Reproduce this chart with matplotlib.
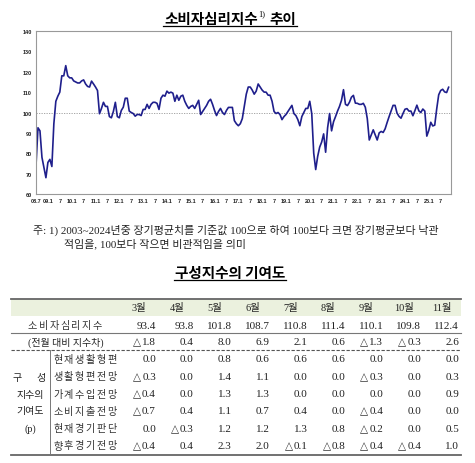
import matplotlib
matplotlib.use("Agg")
import matplotlib.pyplot as plt
from matplotlib.patches import Rectangle

W, H = 475, 464
KR = ["Noto Sans CJK KR", "DejaVu Sans"]
SERIF = ["Liberation Serif", "DejaVu Sans", "Noto Sans CJK KR"]

# monthly index, 2008.7 ~ 2025.11
cssi = [
    74, 92.5, 91, 78, 73, 68,                                                  # 2008.7~12
    75.5, 77, 73.5, 94.5, 105.5, 108, 110, 118, 118, 123, 118, 117,            # 2009
    117, 115.5, 115, 114.5, 114.5, 115.5, 116, 114, 112.8, 112.5, 115.4, 114,  # 2010
    112.5, 110.8, 99.4, 102, 105, 103, 103, 98, 97.4, 100.5, 105, 98,          # 2011
    97.4, 101, 102.6, 107, 107, 100.7, 100, 99.5, 98.2, 99, 99, 98.5,          # 2012
    101.5, 101.5, 104, 102, 104, 105, 105, 104.5, 101.5, 107, 108.5, 108,      # 2013
    110.5, 109.5, 110, 109.5, 105.5, 108.5, 106, 108, 108.5, 105.5, 103.5, 102,  # 2014
    103, 103.5, 102, 104, 106, 99, 100.5, 102, 103.5, 105.5, 106.5, 104,       # 2015
    101, 98.5, 100.5, 102, 100, 99, 101, 102.5, 102.5, 102.5, 96, 94.5,        # 2016
    93.5, 94.5, 97, 103, 109, 112.5, 112.5, 111, 109, 110.5, 114, 112.5,       # 2017
    111, 110, 110, 108.5, 108.5, 105.5, 100.5, 99.5, 100, 99, 96.5, 98,        # 2018
    99, 100.5, 102, 103.5, 99.5, 98.5, 96.5, 93.5, 98, 100, 102, 102,          # 2019
    105.5, 99.5, 80, 72, 78.5, 83, 85.5, 89.5, 80.5, 92.5, 99.5, 91,           # 2020
    95.5, 98, 100.7, 103, 106, 111.2, 104, 103.4, 105, 107.5, 108.4, 104.6,    # 2021
    104.5, 104, 104, 104.5, 102.6, 97, 86.5, 89, 91.5, 89, 86.5, 90,           # 2022
    90.7, 90.2, 92, 95.1, 98, 100.7, 103.5, 103.5, 99.7, 98.1, 97.2, 99.5,     # 2023
    101.6, 101.9, 100.7, 100.7, 98.4, 100.9, 103.6, 100.8, 100, 101.7, 100.7, 88.4,  # 2024
    91.2, 95.2, 93.4, 93.8, 101.8, 108.7, 110.8, 111.4, 110.1, 109.8, 112.4,   # 2025.1~11
]
xtick_labels = ["08.7", "09.1", "7", "10.1", "7", "11.1", "7", "12.1", "7",
                "13.1", "7", "14.1", "7", "15.1", "7", "16.1", "7", "17.1", "7",
                "18.1", "7", "19.1", "7", "20.1", "7", "21.1", "7", "22.1", "7",
                "23.1", "7", "24.1", "7", "25.1", "7"]
ytick_values = [60, 70, 80, 90, 100, 110, 120, 130, 140]

months = ["3월", "4월", "5월", "6월", "7월", "8월", "9월", "10월", "11월"]
index_level = [93.4, 93.8, 101.8, 108.7, 110.8, 111.4, 110.1, 109.8, 112.4]
index_diff = [-1.8, 0.4, 8.0, 6.9, 2.1, 0.6, -1.3, -0.3, 2.6]
component_names = ["현재생활형편", "생활형편전망", "가계수입전망",
                   "소비지출전망", "현재경기판단", "향후경기전망"]
component_values = [
    [0.0, 0.0, 0.8, 0.6, 0.6, 0.6, 0.0, 0.0, 0.0],
    [-0.3, 0.0, 1.4, 1.1, 0.0, 0.0, -0.3, 0.0, 0.3],
    [-0.4, 0.0, 1.3, 1.3, 0.0, 0.0, 0.0, 0.0, 0.9],
    [-0.7, 0.4, 1.1, 0.7, 0.4, 0.0, -0.4, 0.0, 0.0],
    [0.0, -0.3, 1.2, 1.2, 1.3, 0.8, -0.2, 0.0, 0.5],
    [-0.4, 0.4, 2.3, 2.0, -0.1, -0.8, -0.4, -0.4, 1.0],
]

fig = plt.figure(figsize=(W / 100, H / 100), dpi=100)
fig.patch.set_facecolor("white")
renderer = fig.canvas.get_renderer()

# ---- line chart ----
ax = fig.add_axes([36 / W, 1 - 195 / H, 415 / W, 163 / H])
ax.plot(range(len(cssi)), cssi, color="#1f1f8c", lw=1.2)
ax.axhline(100, color="#999999", lw=0.6, ls=(0, (1.5, 1.5)), zorder=0)
ax.set_xlim(0, 209.2)
ax.set_ylim(60, 140)
ax.set_yticks(ytick_values)
ax.set_yticklabels([str(v) for v in ytick_values])
ax.set_xticks(range(0, 6 * len(xtick_labels), 6))
ax.set_xticklabels(xtick_labels)
for sp in ax.spines.values():
    sp.set_color("#999999")
    sp.set_linewidth(0.8)
ax.tick_params(length=0, pad=3, labelsize=4, colors="#222222")
for lab in ax.get_xticklabels() + ax.get_yticklabels():
    lab.set_family("Liberation Sans")
    lab.set_fontweight("bold")

# ---- overlay in pixel coordinates for texts and the table ----
ov = fig.add_axes([0, 0, 1, 1])
ov.set_xlim(0, W)
ov.set_ylim(H, 0)
ov.axis("off")


def width_px(t):
    return t.get_window_extent(renderer).width


def num_text(x_right, y, v):
    # right aligned number; negatives get a triangle in front
    t = ov.text(x_right, y, "%.1f" % abs(v), family="Liberation Serif", fontsize=8,
                ha="right", va="center", color="#222222")
    if v < 0:
        ov.text(x_right - width_px(t) - 1, y - 0.3, "△", family="DejaVu Sans",
                fontsize=7.6, ha="right", va="center", color="#333333")


def spaced(x0, y, s, step, **kw):
    for k, ch in enumerate(s):
        ov.text(x0 + k * step, y, ch, ha="left", va="center", **kw)


t1 = ov.text(164, 19, "소비자심리지수", family=KR, fontsize=10.5, fontweight="bold",
             ha="left", va="center")
x = 164 + width_px(t1) + 1
t2 = ov.text(x, 14, "1)", family="Liberation Serif", fontsize=6, ha="left", va="center")
x += width_px(t2) + 4
t3 = ov.text(x, 19, "추이", family=KR, fontsize=10.5, fontweight="bold",
             ha="left", va="center")
x += width_px(t3)
ov.plot([163, x + 1], [27, 27], color="black", lw=0.9)

ov.text(33, 230, "주: 1) 2003~2024년중 장기평균치를 기준값 100으로 하여 100보다 크면 장기평균보다 낙관",
        family=SERIF, fontsize=7.9, ha="left", va="center", color="#222222")
ov.text(64, 244, "적임을, 100보다 작으면 비관적임을 의미",
        family=SERIF, fontsize=7.9, ha="left", va="center", color="#222222")

t4 = ov.text(230, 273, "구성지수의 기여도", family=KR, fontsize=10.5, fontweight="bold",
             ha="center", va="center")
half = width_px(t4) / 2
ov.plot([230 - half - 1, 230 + half + 1], [281, 281], color="black", lw=0.9)

# ---- table ----
left, right = 11, 461
col_left, col_w = 120, 37.9
edges = [col_left + i * col_w for i in range(len(months) + 1)]

ov.add_patch(Rectangle((left, 300), right - left, 16.5, facecolor="#ebf1de",
                       edgecolor="none"))
ov.plot([left, right], [300, 300], color="#666666", lw=1.3)
ov.plot([left, right], [334, 334], color="#777777", lw=0.8)
ov.plot([left, right], [350.5, 350.5], color="#555555", lw=0.8, ls=(0, (3, 1.5)))
ov.plot([left, right], [455.5, 455.5], color="#666666", lw=1.3)
ov.plot([49.5, 49.5], [351, 455], color="#777777", lw=0.7)

for j, m in enumerate(months):
    cx = (edges[j] + edges[j + 1]) / 2
    ov.text(cx, 308.5, m, family=SERIF, fontsize=7.5, ha="center", va="center",
            color="#222222")
    num_text(edges[j + 1] - 2, 326.5, index_level[j])
    num_text(edges[j + 1] - 2, 343, index_diff[j])

lab_kw = dict(family=KR, fontsize=7.3, color="#333333")
spaced(28, 326.5, "소비자심리지수", 10.8, **lab_kw)
ov.text(66, 343, "(전월 대비 지수차)", family=SERIF, fontsize=7.2, ha="center",
        va="center", color="#222222")

row_y = [360 + 17.3 * i for i in range(len(component_names))]
for i, name in enumerate(component_names):
    spaced(53, row_y[i], name, 10.8, **lab_kw)
    for j, v in enumerate(component_values[i]):
        num_text(edges[j + 1] - 2, row_y[i], v)

for txt, y in [("구      성", 379), ("지수의", 396), ("기여도", 412), ("(p)", 429)]:
    ov.text(30, y, txt, family=SERIF, fontsize=7.2, ha="center", va="center",
            color="#222222")

fig.savefig("out.png", dpi=100, facecolor="white")
